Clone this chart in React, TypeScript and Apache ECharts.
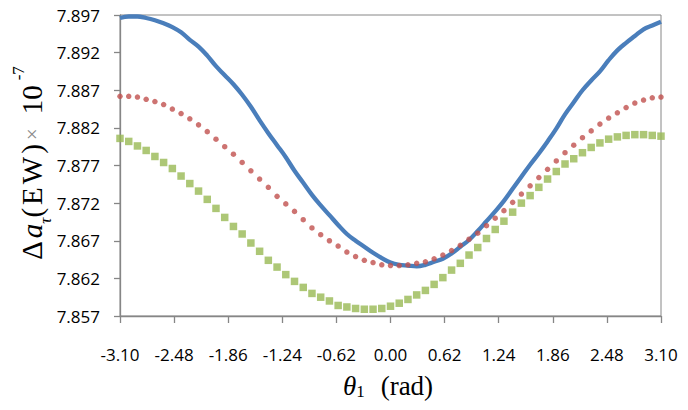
import React, { useEffect, useRef } from "react";
import * as echarts from "echarts";

const theta = [
  -3.1, -3.0, -2.9, -2.8, -2.7, -2.6, -2.5, -2.4, -2.3, -2.2, -2.1, -2.0, -1.9, -1.8, -1.7, -1.6,
  -1.5, -1.4, -1.3, -1.2, -1.1, -1.0, -0.9, -0.8, -0.7, -0.6, -0.5, -0.4, -0.3, -0.2, -0.1, 0.0,
  0.1, 0.2, 0.3, 0.4, 0.5, 0.6, 0.7, 0.8, 0.9, 1.0, 1.1, 1.2, 1.3, 1.4, 1.5, 1.6,
  1.7, 1.8, 1.9, 2.0, 2.1, 2.2, 2.3, 2.4, 2.5, 2.6, 2.7, 2.8, 2.9, 3.0, 3.1,
];

const blueValues = [
  7.8966, 7.8968, 7.8968, 7.8966, 7.8963, 7.8959, 7.8954, 7.8947, 7.8937, 7.8928,
  7.8916, 7.8902, 7.889, 7.8878, 7.8864, 7.8848, 7.883, 7.8813, 7.8797, 7.8781,
  7.8763, 7.8747, 7.8731, 7.8717, 7.8704, 7.8691, 7.8679, 7.867, 7.8662, 7.8654,
  7.8647, 7.8641, 7.8638, 7.8637, 7.8636, 7.8638, 7.8642, 7.8646, 7.8653, 7.8662,
  7.8671, 7.8683, 7.8696, 7.8709, 7.8723, 7.8739, 7.8755, 7.8771, 7.8786, 7.8802,
  7.8819, 7.8838, 7.8854, 7.887, 7.8883, 7.8895, 7.891, 7.8923, 7.8933, 7.8942,
  7.8951, 7.8956, 7.8961,
];

const redValues = [
  7.8862, 7.8862, 7.8861, 7.8858, 7.8855, 7.8851, 7.8845, 7.8839, 7.8832, 7.8824,
  7.8815, 7.8805, 7.8795, 7.8785, 7.8774, 7.8763, 7.8752, 7.8741, 7.8729, 7.8719,
  7.8709, 7.8698, 7.8687, 7.8678, 7.867, 7.8663, 7.8655, 7.8649, 7.8644, 7.8641,
  7.8638, 7.8637, 7.8637, 7.8638, 7.864, 7.8642, 7.8646, 7.8651, 7.8657, 7.8664,
  7.8672, 7.868, 7.869, 7.87, 7.871, 7.8721, 7.8732, 7.8743, 7.8754, 7.8765,
  7.8776, 7.8787, 7.8797, 7.8807, 7.8816, 7.8825, 7.8833, 7.884, 7.8847, 7.8853,
  7.8857, 7.886, 7.8861,
];

const greenValues = [
  7.8806, 7.8802, 7.8796, 7.879, 7.8782, 7.8774, 7.8766, 7.8756, 7.8746, 7.8736,
  7.8725, 7.8713, 7.8701, 7.8689, 7.8679, 7.8667, 7.8656, 7.8644, 7.8635, 7.8625,
  7.8616, 7.8608, 7.86, 7.8595, 7.859, 7.8584, 7.8582, 7.858, 7.8579, 7.8579,
  7.858, 7.8583, 7.8587, 7.8592, 7.8598, 7.8604, 7.8612, 7.8621, 7.8631, 7.864,
  7.8651, 7.8661, 7.8673, 7.8685, 7.8696, 7.8708, 7.872, 7.873, 7.8741, 7.8752,
  7.8762, 7.8772, 7.8779, 7.8787, 7.8794, 7.88, 7.8805, 7.8808, 7.881, 7.8811,
  7.8811, 7.881, 7.8809,
];

const yAxisRange = { min: 7.857, max: 7.897, step: 0.005 };
const xAxisRange = { min: -3.1, max: 3.1, step: 0.62 };

const AXIS_GRAY = "#868686";
const SERIF = "Liberation Serif";
const SANS = "Open Sans";

export default function App() {
  const ref = useRef<HTMLDivElement>(null);

  useEffect(() => {
    if (!ref.current) return;
    const chart = echarts.init(ref.current, undefined, { renderer: "svg" });
    const pairs = (vals: number[]) => theta.map((t, i) => [t, vals[i]]);
    const main = { fontFamily: SERIF, fontSize: 29, lineHeight: 44, fill: "#000" };

    chart.setOption({
      animation: false,
      backgroundColor: "#ffffff",
      grid: {
        left: 120,
        right: 27,
        top: 15,
        bottom: 94,
        show: true,
        borderColor: AXIS_GRAY,
        borderWidth: 1,
        containLabel: false,
        outerBoundsMode: "none",
      },
      xAxis: {
        type: "value",
        min: xAxisRange.min,
        max: xAxisRange.max,
        interval: xAxisRange.step,
        splitLine: { show: false },
        axisLine: { show: true, onZero: false, lineStyle: { color: AXIS_GRAY, width: 1.3 } },
        axisTick: { show: true, length: 7, lineStyle: { color: AXIS_GRAY, width: 1.3 } },
        axisLabel: {
          margin: 30,
          fontFamily: SANS,
          fontSize: 17,
          color: "#000",
          formatter: (v: number) => (Math.abs(v) < 1e-9 ? 0 : v).toFixed(2),
        },
      },
      yAxis: {
        type: "value",
        min: yAxisRange.min,
        max: yAxisRange.max,
        interval: yAxisRange.step,
        splitLine: { show: false },
        axisLine: { show: true, onZero: false, lineStyle: { color: AXIS_GRAY, width: 1.3 } },
        axisTick: { show: true, length: 6, lineStyle: { color: AXIS_GRAY, width: 1.3 } },
        axisLabel: {
          margin: 20,
          fontFamily: SANS,
          fontSize: 17,
          color: "#000",
          formatter: (v: number) => v.toFixed(3),
        },
      },
      series: [
        {
          name: "blue",
          type: "line",
          data: pairs(blueValues),
          showSymbol: false,
          symbol: "none",
          smooth: 0.4,
          lineStyle: { color: "#4A7EBB", width: 4.3 },
          itemStyle: { color: "#4A7EBB" },
          z: 2,
        },
        {
          name: "red",
          type: "scatter",
          data: pairs(redValues),
          symbol: "circle",
          symbolSize: 5.5,
          itemStyle: { color: "#C0504D" },
          z: 3,
        },
        {
          name: "green",
          type: "scatter",
          data: pairs(greenValues),
          symbol: "rect",
          symbolSize: 7.5,
          itemStyle: { color: "#98B954" },
          z: 4,
        },
      ],
      graphic: [
        {
          type: "text",
          x: 32,
          y: 163,
          rotation: Math.PI / 2,
          style: {
            text: "{d|Δ}{a|a}{s|τ}{p|(}{e|E}{w|W}{q|)}{x|×}{n|10}{u|-7}",
            align: "center",
            verticalAlign: "middle",
            fill: "#000",
            rich: {
              d: { ...main, padding: [0, 3, 0, 0] },
              a: { ...main, fontStyle: "italic" },
              s: { fontFamily: SERIF, fontSize: 17, fontStyle: "italic", lineHeight: 24, verticalAlign: "bottom", fill: "#000" },
              p: { ...main, padding: [0, 3, 0, 0] },
              e: { ...main, padding: [0, 3, 0, 0] },
              w: { ...main, padding: [0, 3, 0, 0] },
              q: { ...main },
              x: { fontFamily: SERIF, fontSize: 21, lineHeight: 44, fill: "#8a8a8a", padding: [0, 14, 0, 4] },
              n: { ...main, padding: [0, 5, 0, 0] },
              u: { fontFamily: SERIF, fontSize: 17, lineHeight: 14, verticalAlign: "top", fill: "#000" },
            },
          },
        },
        {
          type: "text",
          x: 388,
          y: 386,
          style: {
            text: "{t|θ}{s|1}{r|(rad)}",
            align: "center",
            verticalAlign: "middle",
            fill: "#000",
            rich: {
              t: { fontFamily: SERIF, fontSize: 27, fontStyle: "italic", lineHeight: 28, fill: "#000" },
              s: { fontFamily: SERIF, fontSize: 17, verticalAlign: "bottom", fill: "#000" },
              r: { fontFamily: SERIF, fontSize: 27, lineHeight: 28, fill: "#000", padding: [0, 0, 0, 16] },
            },
          },
        },
      ],
    });

    return () => chart.dispose();
  }, []);

  return (
    <div
      ref={ref}
      style={{ position: "absolute", left: 0, top: 0, width: 688, height: 410, background: "#fff" }}
    />
  );
}
